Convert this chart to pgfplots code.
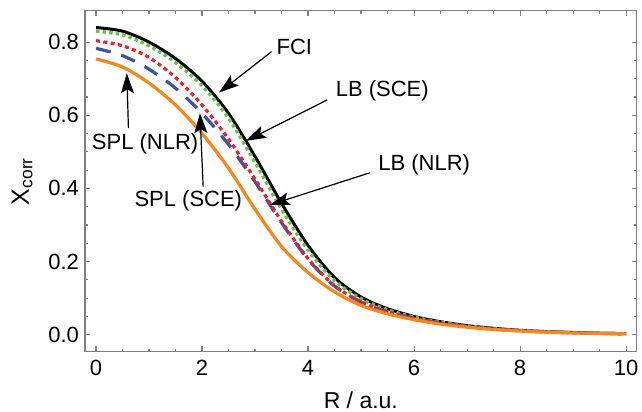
\documentclass[border=0pt]{standalone}
\usepackage{pgfplots}
\pgfplotsset{compat=1.18}
\usepackage{fontspec}
\setmainfont{Liberation Sans}
\usetikzlibrary{arrows.meta}
\definecolor{cgreen}{HTML}{6ABF4B}
\definecolor{cred}{HTML}{E8232A}
\definecolor{cblue}{HTML}{3A55A4}
\definecolor{corange}{HTML}{F7861E}
\definecolor{frame}{HTML}{808080}
\begin{document}
\begin{tikzpicture}
\begin{axis}[
  name=ax,
  scale only axis, width=276pt, height=170.5pt,
  xmin=-0.21, xmax=10.2, ymin=-0.046, ymax=0.886,
  xtick={0,2,...,10}, ytick={0,0.2,0.4,0.6,0.8},
  minor x tick num=3, minor y tick num=3,
  tick align=inside, ticks=both,
  major tick length=2.6pt, minor tick length=1.5pt,
  axis line style={frame, line width=0.65pt},
  every tick/.style={frame, line width=0.6pt},
  /pgf/number format/assume math mode=true,
  tick label style={font=\fontsize{11}{13}\selectfont, text=black},
  xticklabel style={yshift=-1pt},
  yticklabel style={xshift=0.5pt, /pgf/number format/.cd, fixed, fixed zerofill, precision=1},
  xlabel={R / a.u.}, ylabel={X\textsubscript{corr}},
  xlabel style={font=\fontsize{11.5}{13}\selectfont, yshift=-1pt},
  ylabel style={font=\fontsize{12.5}{14}\selectfont, yshift=1pt},
  clip=true,
]
\addplot[black, line width=1.5pt, smooth] coordinates {
(0,0.840) (0.5,0.830) (1,0.800) (1.5,0.755) (2,0.693) (2.5,0.605) (3,0.487) (3.5,0.359) (4,0.244) (4.5,0.156) (5,0.103) (5.5,0.071) (6,0.050) (6.5,0.0355) (7,0.025) (7.5,0.0175) (8,0.012) (8.5,0.0085) (9,0.006) (9.5,0.004) (10,0.003)};
\addplot[cgreen, line width=1.7pt, smooth, dash pattern=on 1.7pt off 1.6pt] coordinates {
(0,0.830) (0.5,0.820) (1,0.790) (1.5,0.744) (2,0.681) (2.5,0.592) (3,0.471) (3.5,0.343) (4,0.231) (4.5,0.148) (5,0.098) (5.5,0.068) (6,0.048) (6.5,0.034) (7,0.024) (7.5,0.0165) (8,0.0115) (8.5,0.008) (9,0.0057) (9.5,0.004) (10,0.0028)};
\addplot[cblue, line width=1.6pt, smooth, dash pattern=on 7.5pt off 5.5pt] coordinates {
(0,0.783) (0.5,0.763) (1,0.726) (1.5,0.674) (2,0.605) (2.5,0.520) (3,0.418) (3.5,0.306) (4,0.206) (4.5,0.133) (5,0.089) (5.5,0.062) (6,0.045) (6.5,0.032) (7,0.0225) (7.5,0.0157) (8,0.011) (8.5,0.0076) (9,0.0053) (9.5,0.0037) (10,0.0026)};
\addplot[cred, line width=1.6pt, smooth, dash pattern=on 2pt off 1.7pt] coordinates {
(0,0.804) (0.5,0.790) (1,0.758) (1.5,0.703) (2,0.628) (2.5,0.535) (3,0.425) (3.5,0.310) (4,0.208) (4.5,0.134) (5,0.090) (5.5,0.063) (6,0.045) (6.5,0.032) (7,0.0225) (7.5,0.0157) (8,0.011) (8.5,0.0077) (9,0.0054) (9.5,0.0037) (10,0.0026)};
\addplot[corange, line width=1.6pt, smooth] coordinates {
(0,0.754) (0.5,0.732) (1,0.688) (1.5,0.628) (2,0.550) (2.5,0.455) (3,0.343) (3.5,0.241) (4,0.170) (4.5,0.117) (5,0.080) (5.5,0.057) (6,0.041) (6.5,0.029) (7,0.0205) (7.5,0.0145) (8,0.010) (8.5,0.007) (9,0.0048) (9.5,0.0033) (10,0.0023)};
% annotations
\tikzset{ann/.style={-{Stealth[length=10pt,width=6.5pt,inset=2pt]}, black, line width=0.6pt}}
\tikzset{lab/.style={font=\fontsize{11}{12}\selectfont, inner sep=0pt}}
\node[lab] at (axis cs:3.74,0.786) {FCI};
\draw[ann] (axis cs:3.31,0.774) -- (axis cs:2.32,0.662);
\node[lab] at (axis cs:5.40,0.667) {LB (SCE)};
\draw[ann] (axis cs:4.36,0.642) -- (axis cs:2.83,0.530);
\node[lab] at (axis cs:6.19,0.464) {LB (NLR)};
\draw[ann] (axis cs:5.17,0.443) -- (axis cs:3.28,0.355);
\node[lab] at (axis cs:0.925,0.522) {SPL (NLR)};
\draw[ann] (axis cs:0.61,0.565) -- (axis cs:0.58,0.715);
\node[lab] at (axis cs:1.74,0.366) {SPL (SCE)};
\draw[ann] (axis cs:2.02,0.405) -- (axis cs:1.96,0.606);
\end{axis}
\pgfresetboundingbox
\path ([xshift=-42.5pt,yshift=-30.15pt]ax.south west) rectangle ([xshift=2.65pt,yshift=5.35pt]ax.north east);
\end{tikzpicture}
\end{document}
